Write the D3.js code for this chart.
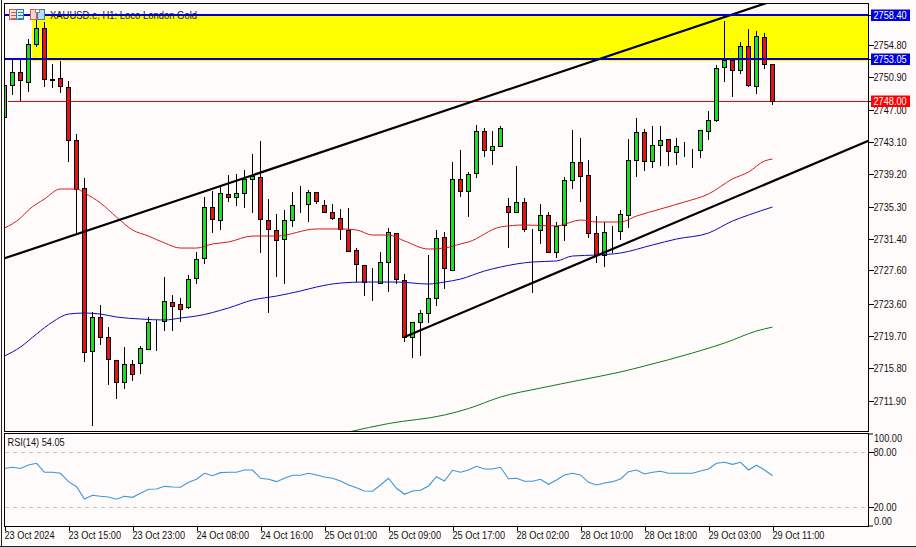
<!DOCTYPE html>
<html><head><meta charset="utf-8">
<script src="https://cdn.jsdelivr.net/npm/d3@7/dist/d3.min.js"></script>
<style>
html,body{margin:0;padding:0;background:#fffbfb}
svg{display:block}
text{font-family:"Liberation Sans",sans-serif;font-size:11px;fill:#111}
</style></head><body><div id="c"></div>
<script>
const opens=[2746.10,2749.96,2751.52,2750.32,2754.90,2756.83,2750.68,2750.80,2749.72,2743.32,2737.53,2717.87,2721.97,2719.56,2716.78,2714.13,2716.30,2716.42,2718.11,2721.37,2721.49,2723.78,2723.54,2723.18,2726.67,2729.09,2735.24,2733.67,2736.81,2736.45,2736.93,2738.62,2738.86,2733.67,2732.47,2731.38,2733.67,2735.48,2735.60,2737.05,2735.48,2734.64,2733.91,2732.47,2730.05,2728.24,2726.07,2726.07,2728.61,2732.10,2726.43,2719.56,2721.37,2722.45,2724.26,2731.62,2727.64,2738.62,2737.17,2739.34,2744.41,2742.12,2742.60,2735.36,2734.64,2735.84,2732.47,2732.47,2734.27,2729.81,2733.07,2738.50,2740.67,2739.10,2732.10,2729.45,2732.34,2732.34,2734.27,2740.91,2744.29,2740.79,2742.72,2743.44,2741.88,2742.48,2742.00,2742.12,2744.41,2745.73,2752.13,2752.97,2751.77,2754.66,2749.84,2755.75,2752.49];
const highs=[2749.96,2752.97,2752.97,2755.51,2758.04,2757.56,2752.49,2752.85,2750.44,2744.05,2738.74,2722.58,2723.42,2720.76,2716.78,2718.35,2716.78,2718.47,2721.97,2721.61,2726.79,2724.62,2724.26,2727.04,2729.81,2736.45,2737.17,2737.65,2739.10,2739.22,2739.70,2741.63,2743.20,2736.21,2734.40,2734.88,2737.05,2737.77,2737.29,2737.05,2736.08,2735.60,2735.00,2735.12,2730.29,2728.24,2727.88,2729.81,2732.71,2732.10,2727.16,2721.37,2722.82,2729.45,2732.47,2732.22,2740.67,2742.12,2739.46,2745.13,2744.77,2744.41,2745.01,2736.33,2740.19,2736.33,2732.60,2735.60,2734.64,2733.43,2738.86,2744.53,2743.56,2740.91,2734.15,2733.43,2732.95,2734.88,2743.44,2745.98,2744.65,2745.01,2745.01,2743.44,2743.56,2743.08,2742.24,2744.53,2746.82,2752.37,2757.68,2752.97,2755.14,2756.71,2756.47,2756.23,2752.49];
const lows=[2745.73,2748.75,2748.03,2749.11,2754.54,2749.72,2749.59,2748.99,2740.67,2731.86,2716.54,2708.82,2718.59,2713.77,2712.08,2713.28,2714.25,2715.10,2718.11,2717.87,2720.28,2720.28,2721.37,2722.94,2725.95,2728.36,2732.10,2732.47,2735.84,2735.36,2735.12,2734.52,2729.69,2722.45,2726.79,2725.95,2732.83,2734.52,2733.43,2735.60,2734.52,2733.67,2731.26,2729.81,2726.19,2724.50,2723.90,2726.07,2724.99,2725.95,2718.95,2717.02,2717.26,2721.25,2723.30,2725.35,2727.64,2736.45,2734.03,2738.74,2741.27,2740.31,2742.48,2730.29,2734.64,2732.22,2724.87,2730.78,2729.81,2729.09,2731.14,2737.41,2735.84,2731.50,2728.49,2728.00,2729.69,2731.26,2732.71,2738.86,2739.58,2739.94,2740.19,2740.19,2740.31,2741.27,2739.94,2741.15,2743.32,2745.49,2750.32,2748.51,2751.28,2749.72,2748.87,2751.89,2747.54];
const closes=[2749.96,2751.52,2750.56,2754.90,2756.83,2750.68,2750.56,2749.84,2743.32,2737.41,2717.75,2721.97,2719.56,2716.90,2714.13,2716.30,2715.10,2718.23,2721.37,2721.40,2723.90,2723.30,2722.94,2726.55,2728.97,2735.24,2733.79,2736.93,2736.45,2736.93,2738.62,2738.98,2733.79,2732.59,2731.26,2733.67,2735.48,2735.50,2737.05,2735.96,2734.64,2733.91,2732.59,2729.93,2728.36,2726.19,2726.05,2728.61,2732.22,2726.55,2719.56,2721.37,2722.45,2724.26,2731.50,2727.88,2738.62,2737.17,2739.22,2744.41,2742.12,2742.60,2744.77,2734.64,2735.84,2732.59,2732.50,2734.27,2729.81,2732.95,2738.50,2740.67,2738.98,2732.10,2729.45,2732.22,2732.36,2734.40,2740.91,2744.29,2740.79,2742.72,2743.32,2742.00,2742.60,2742.50,2742.02,2744.53,2745.73,2752.01,2752.97,2751.77,2754.66,2749.96,2755.87,2752.49,2748.00];

const maRedBars=[0,2,3,5,7,9,10,12,14,16,18,20,22,24,26,28,31,34,39,42,44,46,48,50,53,55,57,58,62,65,69,72,74,77,79,82,85,88,91,93,95,96];
const maRed=[2732.71,2733.91,2734.88,2736.21,2737.41,2737.41,2736.93,2735.72,2734.03,2732.47,2731.74,2730.90,2730.29,2730.29,2730.78,2731.02,2731.74,2731.74,2732.59,2732.59,2732.47,2731.86,2731.86,2731.14,2730.17,2730.29,2730.78,2731.02,2732.83,2733.07,2732.95,2733.67,2733.43,2733.43,2734.15,2735.00,2735.84,2736.81,2738.62,2739.46,2740.79,2741.03];
const maBlueBars=[0,2,4,6,8,10,12,14,17,20,22,24,28,31,34,37,39,42,45,49,53,55,57,60,62,66,69,71,74,77,81,84,88,91,93,96];
const maBlue=[2717.26,2718.35,2719.92,2721.37,2722.33,2722.45,2722.33,2721.97,2721.73,2721.61,2721.85,2722.09,2723.06,2724.02,2724.50,2725.11,2725.59,2726.07,2726.19,2726.19,2725.95,2726.19,2726.55,2727.52,2728.00,2728.61,2728.73,2729.33,2729.45,2729.69,2730.66,2731.38,2732.10,2733.55,2734.27,2735.24];
const maGreenBars=[43,48,55,58,62,67,72,77,80,86,90,94,96];
const maGreen=[2708.10,2709.12,2710.15,2710.93,2712.32,2713.40,2714.37,2715.34,2716.06,2717.63,2718.83,2720.28,2720.76];
const channelUpperBars=[0,96], channelUpperPrices=[2729.05,2760.09];
const channelLowerBars=[50,108], channelLowerPrices=[2719.56,2743.24];
const zoneBar=4, zoneHigh=2758.40, zoneLow=2752.85;
const supplyHigh=2758.40, supplyLow=2753.05, bidPrice=2748.00;
const rsi=[62.0,63.3,62.0,65.8,67.6,57.8,57.8,56.7,47.6,42.1,28.7,32.7,31.6,30.9,28.4,31.6,30.5,34.9,39.3,39.6,42.5,41.8,41.5,46.9,50.2,56.7,54.1,57.4,57.8,57.8,60.3,60.3,51.3,50.2,47.6,51.3,54.5,54.5,56.7,54.9,52.7,51.3,48.3,44.0,41.0,37.4,37.1,44.0,51.3,40.4,33.8,37.4,38.2,42.9,53.0,48.3,60.0,57.8,60.3,64.4,61.4,61.4,63.3,50.8,51.3,48.0,48.0,50.2,44.7,49.4,54.9,56.7,54.9,46.9,44.0,46.1,47.6,50.5,58.5,60.3,56.0,57.8,58.9,56.7,56.7,56.7,56.7,59.2,61.4,67.6,68.7,66.5,68.7,60.3,65.5,60.3,54.05];

const priceTicks=[2754.80,2750.90,2747.00,2743.10,2739.20,2735.30,2731.40,2727.60,2723.60,2719.70,2715.80,2711.90];
const rsiTicks=[80,20];
const timeTickBars=[0,8,16,24,32,40,48,56,64,72,80,88,96];
const timeTickLabels=["23 Oct 2024","23 Oct 15:00","23 Oct 23:00","24 Oct 08:00","24 Oct 16:00","25 Oct 01:00","25 Oct 09:00","25 Oct 17:00","28 Oct 02:00","28 Oct 10:00","28 Oct 18:00","29 Oct 03:00","29 Oct 11:00"];
const titleText="XAUUSD.e, H1: Loco London Gold";

const W=916,H=547,L=4.5,R=868.5,mainTop=3.5,mainBot=431.5,rsiTop=433.5,rsiBot=526.5;
const x=d3.scaleLinear().domain([0,108]).range([4.5,868.5]);
const y=d3.scaleLinear().domain([2758.4,2711.9]).range([15,400.5]);
const yr=d3.scaleLinear().domain([0,100]).range([525.3,433.6]);
const svg=d3.select("#c").append("svg").attr("width",W).attr("height",H);
svg.append("rect").attr("width",W).attr("height",H).attr("fill","#fffbfb");
const defs=svg.append("defs");
defs.append("clipPath").attr("id","m").append("rect").attr("x",L).attr("y",mainTop).attr("width",R-L).attr("height",mainBot-mainTop);

const g=svg.append("g").attr("clip-path","url(#m)");
g.append("rect").attr("x",x(zoneBar)-4.5).attr("y",y(zoneHigh)).attr("width",R-x(zoneBar)+4.5).attr("height",y(zoneLow)-y(zoneHigh)).attr("fill","#ffff00");
g.append("rect").attr("x",L+3).attr("width",R-L-3).attr("y",Math.round(y(bidPrice))).attr("height",1).attr("fill","#ff0000").attr("shape-rendering","crispEdges");

// candles
const idx=d3.range(opens.length);
g.append("g").selectAll("line").data(idx).join("line")
 .attr("x1",i=>x(i)).attr("x2",i=>x(i)).attr("y1",i=>Math.round(y(highs[i]))).attr("y2",i=>Math.round(y(lows[i])))
 .attr("stroke","#000").attr("shape-rendering","crispEdges");
g.append("g").selectAll("rect").data(idx).join("rect")
 .attr("x",i=>x(i)-2).attr("width",4)
 .attr("y",i=>Math.round(y(Math.max(opens[i],closes[i])))+.5)
 .attr("height",i=>Math.abs(Math.round(y(opens[i]))-Math.round(y(closes[i]))))
 .attr("fill",i=>closes[i]>=opens[i]?"#1fe01f":"#e51313")
 .attr("stroke","#000").attr("shape-rendering","crispEdges");

// moving averages
const ml=d3.line().x(d=>x(d[0])).y(d=>y(d[1])).curve(d3.curveMonotoneX);
g.append("path").attr("d",ml(d3.zip(maRedBars,maRed))).attr("fill","none").attr("stroke","#d01c1c").attr("stroke-width",1);
g.append("path").attr("d",ml(d3.zip(maBlueBars,maBlue))).attr("fill","none").attr("stroke","#0c0cb4").attr("stroke-width",1);
g.append("path").attr("d",ml(d3.zip(maGreenBars,maGreen))).attr("fill","none").attr("stroke","#12781a").attr("stroke-width",1);

// trend channel
[[channelUpperBars,channelUpperPrices],[channelLowerBars,channelLowerPrices]].forEach(([b,p])=>{
 g.append("path").attr("d",ml(d3.zip(b,p))).attr("fill","none").attr("stroke","#000").attr("stroke-width",2.2);
});

// title
svg.append("text").attr("class","title").attr("x",50).attr("y",19).text(titleText);

// levels
[supplyHigh,supplyLow].forEach(p=>{
 svg.append("rect").attr("x",L).attr("width",R-L).attr("y",y(p)-1).attr("height",2).attr("fill","#0000c8").attr("shape-rendering","crispEdges");
});

// toolbar icons
const icons=svg.append("g").attr("shape-rendering","crispEdges");
icons.append("rect").attr("x",9.5).attr("y",9.5).attr("width",7).attr("height",10).attr("fill","#fde2dc").attr("stroke","#d9594c");
icons.append("rect").attr("x",16.5).attr("y",9.5).attr("width",7).attr("height",10).attr("fill","#d8eefa").attr("stroke","#2d7fb0");
[12,15,18].forEach(v=>{
 icons.append("line").attr("x1",11).attr("x2",16).attr("y1",v+.5).attr("y2",v+.5).attr("stroke","#d9594c");
 icons.append("line").attr("x1",18).attr("x2",23).attr("y1",v+.5).attr("y2",v+.5).attr("stroke","#2d7fb0");
});
icons.append("rect").attr("x",30.5).attr("y",9.5).attr("width",6).attr("height",10).attr("fill","#fbd2c8").attr("stroke","#d9594c");
icons.append("rect").attr("x",37.5).attr("y",9.5).attr("width",7).attr("height",10).attr("fill","#b9dcf3").attr("stroke","#2d7fb0");
icons.append("rect").attr("x",35.5).attr("y",9.5).attr("width",4).attr("height",3).attr("fill","#fff").attr("stroke","#888");

// price axis
svg.append("g").attr("transform",`translate(${R},0)`)
 .call(d3.axisRight(y).tickValues(priceTicks).tickFormat(d3.format(".2f")).tickSize(5).tickPadding(0))
 .call(a=>a.select(".domain").remove())
 .call(a=>a.selectAll("line").attr("stroke","#000").attr("shape-rendering","crispEdges"))
 .call(a=>a.selectAll("text").attr("fill","#111").style("font-size","11px").style("font-family",null));

// price tags
[[supplyHigh,"#0000e0"],[supplyLow,"#0000e0"],[bidPrice,"#ff0000"]].forEach(([p,col])=>{
 const c=Math.round(y(p));
 svg.append("path").attr("d",`M${R},${c+.5}H873`).attr("stroke","#000");
 svg.append("rect").attr("x",871).attr("y",c-5.5).attr("width",39).attr("height",11.5).attr("fill",col);
 svg.append("text").attr("x",873.5).attr("y",c+4.3).text(d3.format(".2f")(p)).style("fill","#fff");
});

// RSI panel
[80,20].forEach(v=>{
 svg.append("line").attr("x1",L).attr("x2",R).attr("y1",Math.round(yr(v))+.5).attr("y2",Math.round(yr(v))+.5)
  .attr("stroke","#c6c6c6").attr("stroke-dasharray","4 4").attr("shape-rendering","crispEdges");
});
svg.append("path").attr("d",d3.line().x((d,i)=>x(i)).y(d=>yr(d))(rsi)).attr("fill","none").attr("stroke","#3b97d8").attr("stroke-width",1.1);
svg.append("text").attr("x",7.5).attr("y",446).text("RSI(14) "+d3.format(".2f")(rsi[rsi.length-1]));
svg.append("g").attr("transform",`translate(${R},0)`)
 .call(d3.axisRight(yr).tickValues(rsiTicks).tickFormat(d3.format(".2f")).tickSize(5).tickPadding(0))
 .call(a=>a.select(".domain").remove())
 .call(a=>a.selectAll("line").attr("stroke","#000").attr("shape-rendering","crispEdges"))
 .call(a=>a.selectAll("text").attr("fill","#111").style("font-size","11px").style("font-family",null));
svg.append("path").attr("d",`M${R},434H873M${R},526H873`).attr("stroke","#000");
svg.append("text").attr("x",874).attr("y",442).text("100.00");
svg.append("text").attr("x",874).attr("y",525).text("0.00");

// time axis
svg.append("g").attr("transform",`translate(0,${rsiBot})`)
 .call(d3.axisBottom(x).tickValues(timeTickBars).tickFormat((d,i)=>timeTickLabels[i]).tickSize(4))
 .call(a=>a.select(".domain").remove())
 .call(a=>a.selectAll("line").attr("stroke","#000").attr("shape-rendering","crispEdges"))
 .call(a=>a.selectAll("text").attr("fill","#111").attr("text-anchor","start").attr("x",-0.5).attr("y",5).style("font-size","11px").style("font-family",null));

// condense the labels to the width of the terminal's bitmap font
svg.selectAll("text").each(function(){
 const w=this.getComputedTextLength();
 this.setAttribute("textLength",(this.classList.contains("title")?147:w*0.835).toFixed(1));
 this.setAttribute("lengthAdjust","spacingAndGlyphs");
});

// frames
const frame=svg.append("g").attr("fill","none").attr("stroke","#000").attr("shape-rendering","crispEdges");
frame.append("rect").attr("x",L).attr("y",mainTop).attr("width",R-L).attr("height",mainBot-mainTop);
frame.append("rect").attr("x",L).attr("y",rsiTop).attr("width",R-L).attr("height",rsiBot-rsiTop);
frame.append("line").attr("x1",1.5).attr("x2",1.5).attr("y1",0).attr("y2",H).attr("stroke","#222");
frame.append("line").attr("x1",0).attr("x2",W).attr("y1",546.5).attr("y2",546.5).attr("stroke","#222");
</script></body></html>
